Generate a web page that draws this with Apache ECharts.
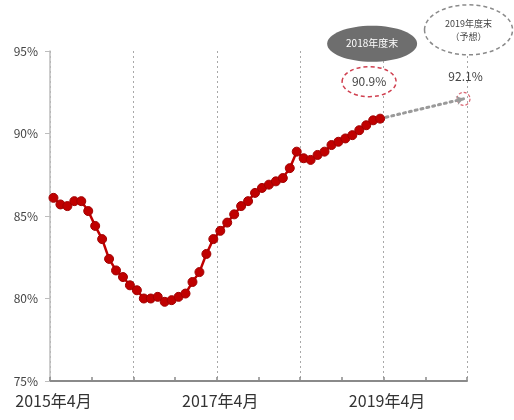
<!DOCTYPE html>
<html>
<head>
<meta charset="utf-8">
<script src="https://cdn.jsdelivr.net/npm/echarts@6/dist/echarts.min.js"></script>
<style>
  html, body { margin: 0; padding: 0; background: #fff; }
  #chart { width: 514px; height: 420px; }
</style>
</head>
<body>
<div id="chart"></div>
<script>
// Monthly ratio (%), April 2015 – March 2019
const rate = [
  86.1, 85.7, 85.6, 85.9, 85.9, 85.3, 84.4, 83.6, 82.4, 81.7, 81.3, 80.8,
  80.5, 80.0, 80.0, 80.1, 79.8, 79.9, 80.1, 80.3, 81.0, 81.6, 82.7, 83.6,
  84.1, 84.6, 85.1, 85.6, 85.9, 86.4, 86.7, 86.9, 87.1, 87.3, 87.9, 88.9,
  88.5, 88.4, 88.7, 88.9, 89.3, 89.5, 89.7, 89.9, 90.2, 90.5, 90.8, 90.9
];
// Projection for the end of fiscal 2019 (March 2020)
const forecastValue = 92.1;
const tickLabels = ['2015年4月', '2017年4月', '2019年4月'];
const yTicks = [75, 80, 85, 90, 95];
const noteActual = '2018年度末';
const noteForecast = ['2019年度末', '（予想）'];

// Month categories April 2015 .. March 2020
const months = [];
for (let i = 0; i < 60; i++) {
  const m = (3 + i) % 12 + 1;
  const y = 2015 + Math.floor((3 + i) / 12);
  months.push(y + '年' + m + '月');
}
const lastIdx = rate.length - 1;
const forecastIdx = months.length - 1;

const chart = echarts.init(document.getElementById('chart'));
const fontFamily = '"Noto Sans CJK JP", "Noto Sans", sans-serif';

chart.setOption({
  animation: false,
  grid: { left: 50, right: 47, top: 51, bottom: 39 },
  xAxis: {
    type: 'category',
    data: months,
    boundaryGap: true,
    axisLine: { lineStyle: { color: '#8a8a8a', width: 2 } },
    axisTick: { show: true, inside: true, length: 4, interval: 5, lineStyle: { color: '#8a8a8a', width: 1.5 } },
    axisLabel: {
      interval: (idx, val) => tickLabels.includes(val),
      color: '#333', fontSize: 16, margin: 12, fontFamily
    },
    splitLine: { show: true, interval: 11, lineStyle: { color: '#a8a8a8', type: [2, 3], width: 1 } }
  },
  yAxis: {
    type: 'value',
    min: yTicks[0], max: yTicks[yTicks.length - 1], interval: 5,
    axisLine: { show: true, lineStyle: { color: '#bdbdbd', width: 1.5 } },
    axisTick: { show: true, length: 5, lineStyle: { color: '#bdbdbd' } },
    splitLine: { show: false },
    axisLabel: { formatter: '{value}%', color: '#444', fontSize: 12, margin: 12, fontFamily }
  },
  series: [
    {
      type: 'line',
      data: rate,
      symbol: 'circle',
      symbolSize: 9,
      showSymbol: true,
      showAllSymbol: true,
      z: 5,
      itemStyle: { color: '#c00000', borderColor: '#a00000', borderWidth: 1 },
      lineStyle: { color: '#c00000', width: 2.5 },
      markLine: {
        silent: true,
        symbol: ['none', 'arrow'],
        symbolSize: 7,
        label: { show: false },
        lineStyle: { color: '#9a9a9a', type: [2, 4], width: 3, cap: 'round' },
        data: [[
          { coord: [months[lastIdx], rate[lastIdx]] },
          { coord: [months[forecastIdx], forecastValue] }
        ]]
      }
    },
    {
      type: 'scatter',
      data: [[months[forecastIdx], forecastValue]],
      symbol: 'circle',
      symbolSize: 13,
      silent: true,
      z: 4,
      itemStyle: { color: 'rgba(0,0,0,0)', borderColor: '#d04050', borderWidth: 1.2, borderType: [3, 2] }
    }
  ]
});

// Callout notes anchored to the last actual value and the projected value
const pA = chart.convertToPixel({ gridIndex: 0 }, [lastIdx, rate[lastIdx]]);
const pF = chart.convertToPixel({ gridIndex: 0 }, [forecastIdx, forecastValue]);

chart.setOption({
  graphic: [
    { type: 'ellipse', z: 10, shape: { cx: pA[0] - 8, cy: pA[1] - 75, rx: 45, ry: 18 },
      style: { fill: '#6e6e6e' } },
    { type: 'text', z: 11, style: { text: noteActual, x: pA[0] - 8, y: pA[1] - 75,
      align: 'center', verticalAlign: 'middle', fill: '#fff', fontSize: 10, fontFamily } },
    { type: 'ellipse', z: 10, shape: { cx: pA[0] - 11, cy: pA[1] - 37, rx: 27, ry: 15 },
      style: { fill: '#fff', stroke: '#d04050', lineWidth: 1.5, lineDash: [4, 3] } },
    { type: 'text', z: 11, style: { text: rate[lastIdx].toFixed(1) + '%', x: pA[0] - 11, y: pA[1] - 37,
      align: 'center', verticalAlign: 'middle', fill: '#444', fontSize: 12, fontFamily } },
    { type: 'ellipse', z: 10, shape: { cx: pF[0] + 5, cy: pF[1] - 69, rx: 44, ry: 25 },
      style: { fill: '#fff', stroke: '#8a8a8a', lineWidth: 1.5, lineDash: [4, 3] } },
    { type: 'text', z: 11, style: { text: noteForecast.join('\n'), x: pF[0] + 5, y: pF[1] - 69,
      align: 'center', verticalAlign: 'middle', fill: '#444', fontSize: 9, lineHeight: 13, fontFamily } },
    { type: 'text', z: 11, style: { text: forecastValue.toFixed(1) + '%', x: pF[0] + 2, y: pF[1] - 22,
      align: 'center', verticalAlign: 'middle', fill: '#444', fontSize: 12, fontFamily } }
  ]
});
</script>
</body>
</html>
